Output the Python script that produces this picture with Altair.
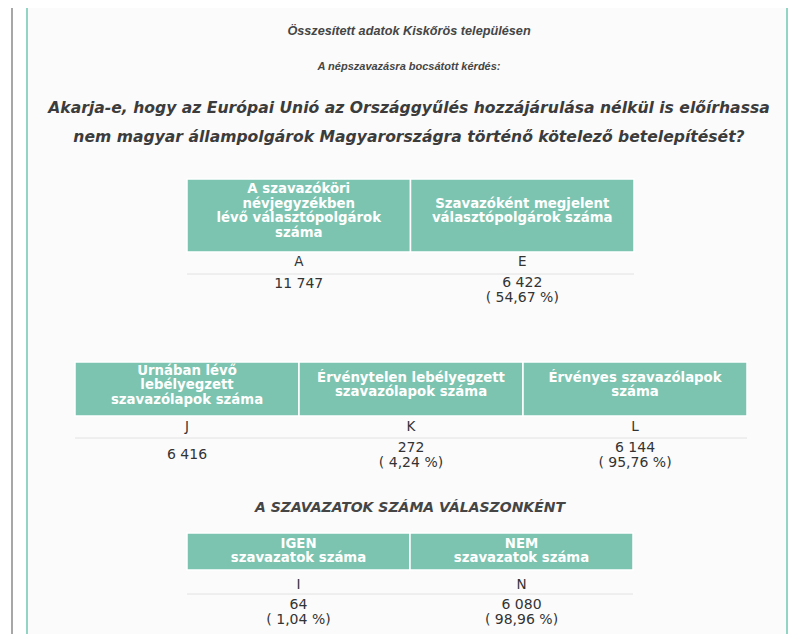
import altair as alt
import pandas as pd

# ---------------- data (text content of the chart) ----------------
title_text = "Összesített adatok Kiskőrös településen"
subtitle_text = "A népszavazásra bocsátott kérdés:"
question_lines = [
    "Akarja-e, hogy az Európai Unió az Országgyűlés hozzájárulása nélkül is előírhassa",
    "nem magyar állampolgárok Magyarországra történő kötelező betelepítését?",
]

t1_headers = ["A szavazóköri\nnévjegyzékben\nlévő választópolgárok\nszáma",
              "Szavazóként megjelent\nválasztópolgárok száma"]
t1_codes = ["A", "E"]
t1_counts = ["11 747", "6 422"]
t1_shares = ["", "( 54,67 %)"]

t2_headers = ["Urnában lévő\nlebélyegzett\nszavazólapok száma",
              "Érvénytelen lebélyegzett\nszavazólapok száma",
              "Érvényes szavazólapok\nszáma"]
t2_codes = ["J", "K", "L"]
t2_counts = ["6 416", "272", "6 144"]
t2_shares = ["", "( 4,24 %)", "( 95,76 %)"]

section_text = "A SZAVAZATOK SZÁMA VÁLASZONKÉNT"
t3_headers = ["IGEN\nszavazatok száma", "NEM\nszavazatok száma"]
t3_codes = ["I", "N"]
t3_counts = ["64", "6 080"]
t3_shares = ["( 1,04 %)", "( 98,96 %)"]

# ---------------- layout (page pixel space) ----------------
W, H = 781, 626
OX, OY = 8, 8
xs = alt.Scale(domain=[OX, OX + W], range=[0, W], nice=False, zero=False)
ys = alt.Scale(domain=[OY, OY + H], range=[0, H], nice=False, zero=False)

TEAL = "#7cc4b0"
FONT = "DejaVu Sans"
HEAD_LH = 14.5
VAL_LH = 15

tables = [
    dict(headers=t1_headers, codes=t1_codes, counts=t1_counts, shares=t1_shares,
         x0=187, x1=634, top=179, hb=252, hc=211, code_y=262, line_y=274,
         val_y=290, single_y=284, bot_y=None),
    dict(headers=t2_headers, codes=t2_codes, counts=t2_counts, shares=t2_shares,
         x0=75, x1=747, top=362, hb=416, hc=385, code_y=427, line_y=438,
         val_y=455, single_y=455, bot_y=None),
    dict(headers=t3_headers, codes=t3_codes, counts=t3_counts, shares=t3_shares,
         x0=187, x1=633, top=533, hb=570, hc=551, code_y=585, line_y=594,
         val_y=612, single_y=612, bot_y=636),
]

cells, head_txt, code_txt, val_txt, hlines = [], [], [], [], []
for t in tables:
    n = len(t["headers"])
    cw = (t["x1"] - t["x0"]) / n
    for i in range(n):
        a = t["x0"] + i * cw
        b = a + cw
        c = (a + b) / 2
        cells.append(dict(x=a, x2=b, y=t["top"], y2=t["hb"]))
        nl = t["headers"][i].count("\n")
        head_txt.append(dict(x=c, y=t["hc"] - nl * HEAD_LH / 2, t=t["headers"][i]))
        code_txt.append(dict(x=c, y=t["code_y"], t=t["codes"][i]))
        if t["shares"][i]:
            val_txt.append(dict(x=c, y=t["val_y"] - VAL_LH / 2,
                                t=t["counts"][i] + "\n" + t["shares"][i]))
        else:
            val_txt.append(dict(x=c, y=t["single_y"], t=t["counts"][i]))
    hlines.append(dict(x=t["x0"], x2=t["x1"], y=t["line_y"]))
    if t["bot_y"]:
        hlines.append(dict(x=t["x0"], x2=t["x1"], y=t["bot_y"]))


def X(f="x"):
    return alt.X(f"{f}:Q", scale=xs, axis=None)


def Y(f="y"):
    return alt.Y(f"{f}:Q", scale=ys, axis=None)


frame = alt.Chart(pd.DataFrame([dict(x=27, x2=787, y=6, y2=700)])).mark_rect(
    fill="#fbfbfb", stroke="#92d5c5", strokeWidth=2, clip=False
).encode(x=X(), x2="x2:Q", y=Y(), y2="y2:Q")

side = alt.Chart(pd.DataFrame([dict(x=12, y=0, y2=700)])).mark_rule(
    color="#8a8a8a", strokeWidth=1.5, clip=False
).encode(x=X(), y=Y(), y2="y2:Q")

cell_layer = alt.Chart(pd.DataFrame(cells)).mark_rect(
    fill=TEAL, stroke="white", strokeWidth=1.5
).encode(x=X(), x2="x2:Q", y=Y(), y2="y2:Q")

line_layer = alt.Chart(pd.DataFrame(hlines)).mark_rule(
    color="#e2e2e2", strokeWidth=1
).encode(x=X(), x2="x2:Q", y=Y())


def text_layer(rows, font=FONT, **kw):
    return alt.Chart(pd.DataFrame(rows)).mark_text(
        font=font, align="center", baseline="middle", lineBreak="\n", **kw
    ).encode(x=X(), y=Y(), text="t:N")


cx = 409
titles = text_layer([dict(x=cx, y=31, t=title_text)], font="Liberation Sans",
                    fontSize=12.7, fontWeight="bold", fontStyle="italic", color="#454545")
sub = text_layer([dict(x=cx, y=67, t=subtitle_text)], font="Liberation Sans",
                 fontSize=11, fontWeight="bold", fontStyle="italic", color="#454545")
quest = text_layer([dict(x=cx, y=108 + 29 * i, t=s) for i, s in enumerate(question_lines)],
                   fontSize=15.6, fontWeight="bold", fontStyle="italic", color="#3c3c3c")
section = text_layer([dict(x=410, y=508, t=section_text)], fontSize=14,
                     fontWeight="bold", fontStyle="italic", color="#454545")
heads = text_layer(head_txt, fontSize=13.3, fontWeight="bold", color="white",
                   lineHeight=HEAD_LH)
codes = text_layer(code_txt, fontSize=13.5, color="#333333")
vals = text_layer(val_txt, fontSize=14, color="#333333", lineHeight=VAL_LH)

chart = alt.layer(
    frame, side, cell_layer, line_layer, titles, sub, quest, section, heads, codes, vals
).properties(
    width=W, height=H, autosize=alt.AutoSizeParams(type="none"), padding=0,
    background="white"
).configure_view(strokeWidth=0)

chart.save("out.html", embed_options={"renderer": "svg", "actions": False})
